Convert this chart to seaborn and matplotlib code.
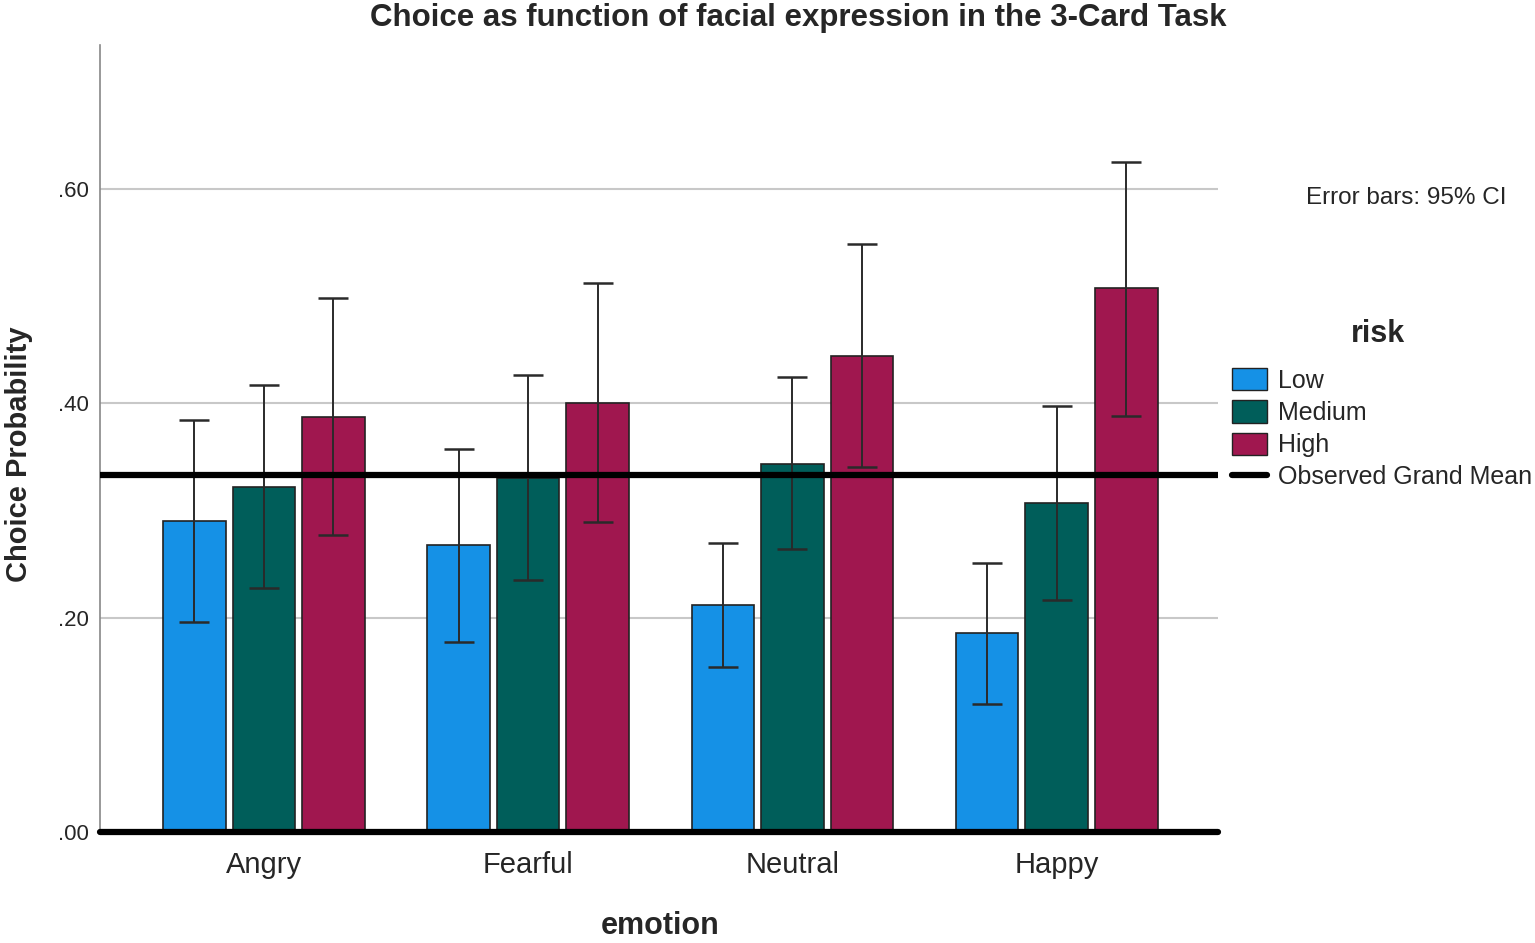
import matplotlib
matplotlib.use("Agg")
import matplotlib.pyplot as plt
import seaborn as sns
import pandas as pd
import numpy as np
from matplotlib.patches import Patch
from matplotlib.lines import Line2D

emotions = ["Angry", "Fearful", "Neutral", "Happy"]
risks = ["Low", "Medium", "High"]
low_vals = [0.290, 0.268, 0.212, 0.186]
med_vals = [0.322, 0.330, 0.343, 0.307]
high_vals = [0.387, 0.400, 0.444, 0.507]
low_ci_lo = [0.196, 0.177, 0.154, 0.119]
low_ci_hi = [0.384, 0.357, 0.270, 0.251]
med_ci_lo = [0.228, 0.235, 0.264, 0.216]
med_ci_hi = [0.417, 0.426, 0.424, 0.397]
high_ci_lo = [0.277, 0.289, 0.340, 0.388]
high_ci_hi = [0.498, 0.512, 0.548, 0.625]
grand_mean = 0.333
colors = ["#1591E6", "#005E5A", "#A0174F"]

rows = []
for r, vals, lo, hi in [("Low", low_vals, low_ci_lo, low_ci_hi),
                        ("Medium", med_vals, med_ci_lo, med_ci_hi),
                        ("High", high_vals, high_ci_lo, high_ci_hi)]:
    for e, v, l, h in zip(emotions, vals, lo, hi):
        rows.append(dict(emotion=e, risk=r, value=v, lo=l, hi=h))
df = pd.DataFrame(rows)

sns.set_style("white")
plt.rcParams['font.family'] = ['Liberation Sans', 'DejaVu Sans']

fig = plt.figure(figsize=(15.35, 9.43), dpi=100)
ax = fig.add_axes([100/1535, 111/943, 1118/1535, (832-45)/943])

sns.barplot(data=df, x="emotion", y="value", hue="risk", order=emotions,
            hue_order=risks, palette=colors, saturation=1, errorbar=None,
            width=0.79, gap=0.1, edgecolor="#222222", linewidth=1.2, ax=ax,
            legend=False, zorder=3)

# error bars
for ci, r in enumerate(risks):
    sub = df[df.risk == r].set_index("emotion").loc[emotions]
    cont = ax.containers[ci]
    xs = [p.get_x() + p.get_width() / 2 for p in cont.patches]
    ax.errorbar(xs, sub["value"].values,
                yerr=[sub["value"].values - sub["lo"].values,
                      sub["hi"].values - sub["value"].values],
                fmt="none", ecolor="#2a2a2a", elinewidth=1.4, capsize=11,
                capthick=1.8, zorder=4)

ax.set_ylim(0, 0.734)
ax.set_xlim(-0.62, 3.61)
ax.set_yticks([0, 0.2, 0.4, 0.6])
ax.set_yticklabels([".00", ".20", ".40", ".60"], fontsize=16)
ax.tick_params(axis="x", labelsize=21, length=0, pad=14)
ax.tick_params(axis="y", length=0, pad=8)
ax.yaxis.grid(True, color="#C8C8C8", linewidth=1.5, zorder=0)
ax.set_axisbelow(True)
for s in ["top", "right", "bottom"]:
    ax.spines[s].set_visible(False)
ax.spines["left"].set_color("#888888")
ax.spines["left"].set_linewidth(1.2)

ax.axhline(0, color="black", linewidth=4.5, zorder=5, clip_on=False)
ax.axhline(grand_mean, color="black", linewidth=4.5, zorder=5)

ax.set_xlabel("")
ax.set_ylabel("")
fig.text(660/1535, 1 - 926/943, "emotion", ha="center", va="center",
         fontsize=22, fontweight="bold")
fig.text(19/1535, 1 - 454/943, "Choice Probability", ha="center", va="center",
         rotation=90, fontsize=21, fontweight="bold")
fig.text(798/1535, 1 - 18/943, "Choice as function of facial expression in the 3-Card Task",
         ha="center", va="center", fontsize=22.5, fontweight="bold")
fig.text(1406/1535, 1 - 198/943, "Error bars: 95% CI", ha="center", va="center",
         fontsize=17.5)
fig.text(1378/1535, 1 - 334/943, "risk", ha="center", va="center",
         fontsize=22, fontweight="bold")

handles = [Patch(facecolor=c, edgecolor="#222222", label=r) for c, r in zip(colors, risks)]
handles.append(Line2D([0], [0], color="black", linewidth=4.5, label="Observed Grand Mean"))
leg = fig.legend(handles=handles, loc="upper left",
                 bbox_to_anchor=(1232/1535, 1 - 368/943), frameon=False,
                 fontsize=18, handlelength=1.4, handleheight=1.0,
                 handletextpad=0.45, labelspacing=0.3, borderaxespad=0,
                 borderpad=0)

fig.savefig("out.png", dpi=100)
